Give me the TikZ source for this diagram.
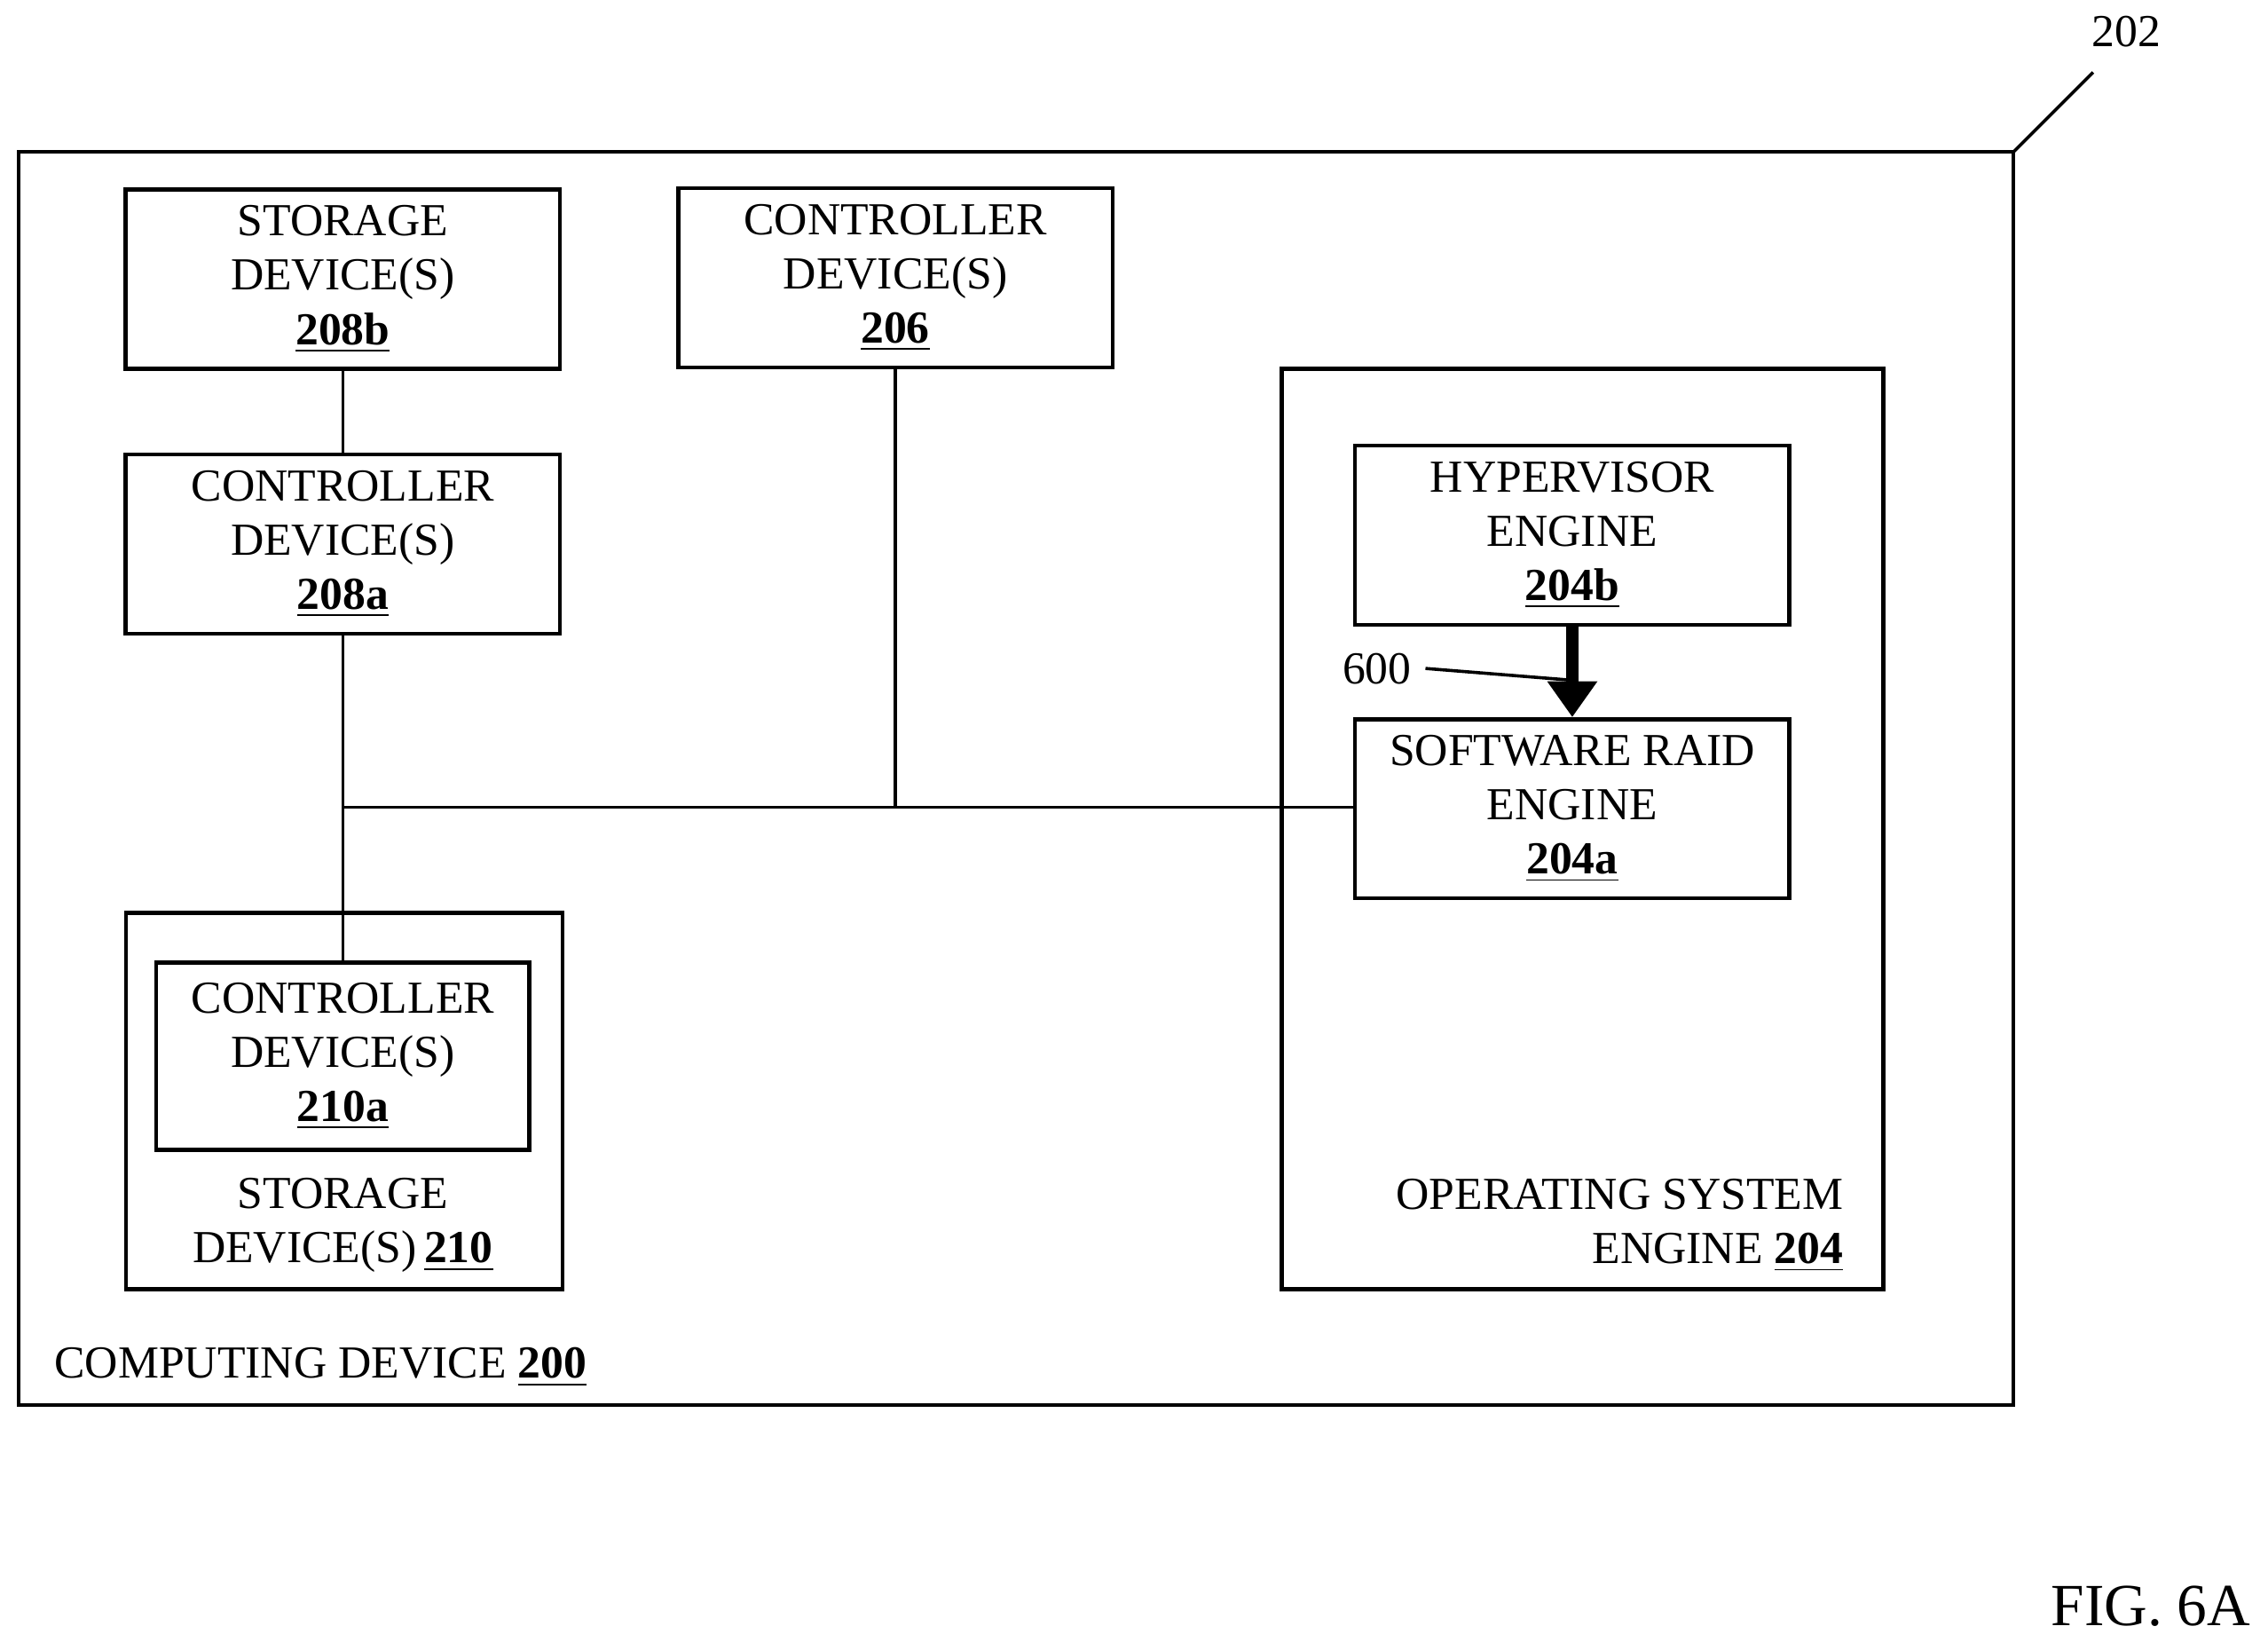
\documentclass[tikz,border=0pt]{standalone}
\usepackage{fontspec}
\setmainfont{Liberation Serif}
\usetikzlibrary{positioning,arrows.meta}
\tikzset{
  box/.style={draw=black,line width=1pt,minimum width=3.83cm,minimum height=1.58cm,align=center,font=\fontsize{11.5}{13.6}\selectfont},
  wire/.style={line width=0.8pt},
  txt/.style={font=\fontsize{11.5}{13.6}\selectfont}
}
\newcommand{\num}[1]{\underline{\textbf{#1}}}
\begin{document}
\begin{tikzpicture}[x=0.01276cm,y=-0.01276cm]
  \useasboundingbox (0,0) rectangle (1568,1140);
  % outer boxes
  \draw[line width=1pt] (13,105) rectangle (1392,971);
  \draw[line width=1pt] (886,255) rectangle (1302,891);
  \draw[line width=1pt] (87,631) rectangle (389,891);
  \coordinate (corner) at (1392,105);
  \coordinate (tag) at (1447,50);
  \draw[wire] (corner) -- (tag);
  \node[txt] (n202) at (1470,22) {202};

  \node[box] (s208b) at (237,193) {STORAGE\\DEVICE(S)\\\num{208b}};
  \node[box] (c206) at (619,192) {CONTROLLER\\DEVICE(S)\\\num{206}};
  \node[box] (c208a) at (237,376) {CONTROLLER\\DEVICE(S)\\\num{208a}};
  \node[box] (hyp) at (1087,370) {HYPERVISOR\\ENGINE\\\num{204b}};
  \node[box] (raid) at (1087,559) {SOFTWARE RAID\\ENGINE\\\num{204a}};
  \node[box,minimum width=3.29cm,minimum height=1.65cm] (c210a) at (237,730) {CONTROLLER\\DEVICE(S)\\\num{210a}};

  \node[txt,align=center] (s210) at (237,847) {STORAGE\\DEVICE(S)\,\num{210}};
  \node[txt,align=right,anchor=east] (os) at (1284,847) {OPERATING SYSTEM\\ENGINE \num{204}};
  \node[txt,anchor=west] (cd) at (28,945) {COMPUTING DEVICE \num{200}};
  \node[font=\fontsize{15}{18}\selectfont] (fig) at (1487,1110) {FIG. 6A};

  % bus
  \coordinate (j1) at (237,558);
  \coordinate (j2) at (619,558);
  \draw[wire] (s208b) -- (c208a);
  \draw[wire] (c208a) -- (c210a);
  \draw[wire] (c206) -- (j2);
  \draw[wire] (j1) -- (raid.west |- j1);
  \draw[line width=3pt,-{Triangle[length=9pt,width=12pt]}] (hyp) -- (raid);
  \node[txt] (n600) at (952,462) {600};
  \coordinate (p600) at (1085,470);
  \draw[wire] (n600.east) -- (p600);
\end{tikzpicture}
\end{document}
